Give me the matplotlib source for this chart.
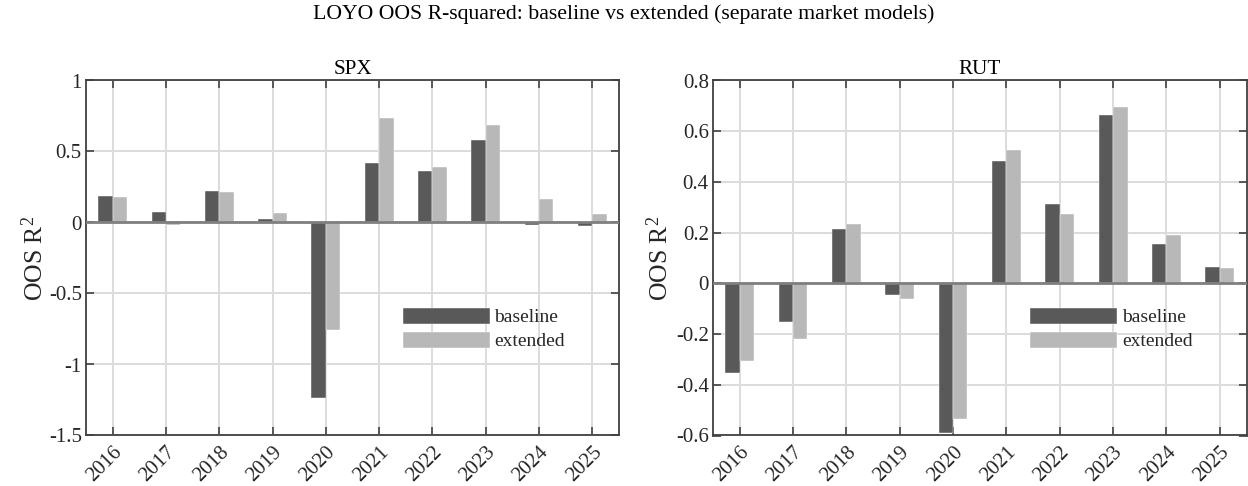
import matplotlib
matplotlib.use("Agg")
import matplotlib.pyplot as plt
import numpy as np

years = ["2016", "2017", "2018", "2019", "2020", "2021", "2022", "2023", "2024", "2025"]
spx_baseline = [0.19, 0.076, 0.223, 0.026, -1.235, 0.419, 0.36, 0.578, -0.02, -0.028]
spx_extended = [0.18, -0.021, 0.213, 0.066, -0.756, 0.739, 0.393, 0.685, 0.163, 0.057]
rut_baseline = [-0.352, -0.153, 0.216, -0.044, -0.589, 0.481, 0.311, 0.665, 0.156, 0.066]
rut_extended = [-0.307, -0.218, 0.235, -0.062, -0.536, 0.526, 0.275, 0.696, 0.19, 0.062]

plt.rcParams['font.family'] = ['Liberation Serif', 'DejaVu Serif']
plt.rcParams['mathtext.fontset'] = 'custom'
plt.rcParams['mathtext.rm'] = 'Liberation Serif'
plt.rcParams['mathtext.it'] = 'Liberation Serif:italic'

c_base = '#595959'
c_ext = '#b8b8b8'
axis_col = '#404040'
text_col = '#262626'

fig = plt.figure(figsize=(12.48, 4.86), dpi=100)
W, H = 1248, 486
def ax_rect(l, r, t, b):
    return [l / W, 1 - b / H, (r - l) / W, (b - t) / H]

ax1 = fig.add_axes(ax_rect(86, 619, 80.5, 435.5))
ax2 = fig.add_axes(ax_rect(713, 1246.5, 80.5, 435.5))

fig.text(0.5, 1 - 14 / H, "LOYO OOS R-squared: baseline vs extended (separate market models)",
         ha='center', va='center', fontsize=15.7, color='black')

def draw(ax, base, ext, title, ylim, yticks, yticklabels, ylab_x):
    x = np.arange(len(years))
    w = 0.27
    ax.set_axisbelow(True)
    ax.grid(True, color='#dcdcdc', linewidth=1.4)
    ax.bar(x - w / 2, base, width=w, color=c_base, label='baseline', zorder=2,
           edgecolor='white', linewidth=0.3)
    ax.bar(x + w / 2, ext, width=w, color=c_ext, label='extended', zorder=2,
           edgecolor='white', linewidth=0.3)
    ax.axhline(0, color='#7f7f7f', linewidth=2.0, zorder=3)
    ax.set_xlim(-0.5, len(years) - 0.5)
    ax.set_ylim(*ylim)
    ax.set_yticks(yticks)
    ax.set_yticklabels(yticklabels)
    ax.set_xticks(x)
    ax.set_xticklabels(years, rotation=45, ha='right', va='top', rotation_mode='anchor')
    ax.tick_params(direction='in', length=6, width=1.2, color=axis_col, labelcolor=text_col,
                   labelsize=15, top=True, right=True, pad=3)
    ax.tick_params(axis='x', pad=5)
    for s in ax.spines.values():
        s.set_color(axis_col)
        s.set_linewidth(1.3)
    ax.set_title(title, fontsize=15.2, color='black', pad=5)
    ax.set_ylabel("OOS R$^{2}$", fontsize=18.5, color=text_col)
    ax.yaxis.set_label_coords(ylab_x, 0.5)
    ax.legend(loc='upper left', bbox_to_anchor=(0.595, 0.36), frameon=False,
              handlelength=4.45, handleheight=0.9, labelspacing=0.26, handletextpad=0.25,
              borderpad=0, borderaxespad=0, fontsize=14, labelcolor=text_col)

draw(ax1, spx_baseline, spx_extended, "SPX", (-1.5, 1), [-1.5, -1, -0.5, 0, 0.5, 1],
     ["-1.5", "-1", "-0.5", "0", "0.5", "1"], -0.071)
draw(ax2, rut_baseline, rut_extended, "RUT", (-0.6, 0.8), [-0.6, -0.4, -0.2, 0, 0.2, 0.4, 0.6, 0.8],
     ["-0.6", "-0.4", "-0.2", "0", "0.2", "0.4", "0.6", "0.8"], -0.075)

fig.savefig("out.png", dpi=100)
